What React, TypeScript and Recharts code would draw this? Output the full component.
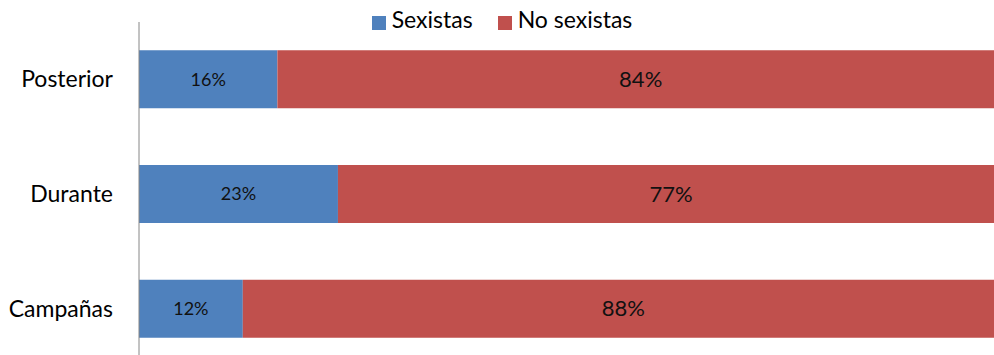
import React from 'react';
import { BarChart, Bar, XAxis, YAxis, Legend, LabelList } from 'recharts';

const categories = ['Posterior', 'Durante', 'Campañas'];
const sexistas = [16, 23, 12];
const noSexistas = [84, 77, 88];

const BLUE = '#4F81BD';
const RED = '#C0504D';
const FONT = 'Lato, "Open Sans", sans-serif';

const data = categories.map((name, i) => ({
  name,
  sexistas: sexistas[i],
  noSexistas: noSexistas[i],
}));

const legendItems = [
  { label: 'Sexistas', color: BLUE },
  { label: 'No sexistas', color: RED },
];

function ChartLegend() {
  return (
    <div style={{ display: 'flex', justifyContent: 'center', fontFamily: FONT, fontSize: 23, color: '#000', lineHeight: '28px' }}>
      {legendItems.map((item, i) => (
        <div key={item.label} style={{ display: 'flex', alignItems: 'center', marginLeft: i ? 25 : 0 }}>
          <span style={{ width: 14, height: 14, background: item.color, marginRight: 6, marginTop: 7 }} />
          <span>{item.label}</span>
        </div>
      ))}
    </div>
  );
}

export default function App() {
  return (
    <div style={{ width: 994, height: 355, overflow: 'hidden', background: '#fff' }}>
      <style>{'body{margin:0;}'}</style>
      <BarChart
        width={1004}
        height={366}
        data={data}
        layout="vertical"
        margin={{ top: 22, right: 0, bottom: 0, left: 0 }}
        barCategoryGap="24.7%"
      >
        <XAxis type="number" domain={[0, 100]} hide />
        <YAxis
          type="category"
          dataKey="name"
          width={139}
          axisLine={{ stroke: '#868686', strokeWidth: 1 }}
          tickLine={false}
          tickSize={0}
          tickMargin={26}
          tick={{ fill: '#000', fontSize: 23, fontFamily: FONT }}
        />
        <Legend
          verticalAlign="middle"
          layout="horizontal"
          align="center"
          wrapperStyle={{ top: 5, left: 0, width: 1004 }}
          content={() => <ChartLegend />}
        />
        <Bar dataKey="sexistas" stackId="a" fill={BLUE} isAnimationActive={false}>
          <LabelList
            dataKey="sexistas"
            position="center"
            formatter={(v: any) => `${v}%`}
            style={{ fill: '#111', fontSize: 18, fontFamily: FONT }}
          />
        </Bar>
        <Bar dataKey="noSexistas" stackId="a" fill={RED} isAnimationActive={false}>
          <LabelList
            dataKey="noSexistas"
            position="center"
            formatter={(v: any) => `${v}%`}
            style={{ fill: '#111', fontSize: 22, fontFamily: FONT }}
          />
        </Bar>
      </BarChart>
    </div>
  );
}
